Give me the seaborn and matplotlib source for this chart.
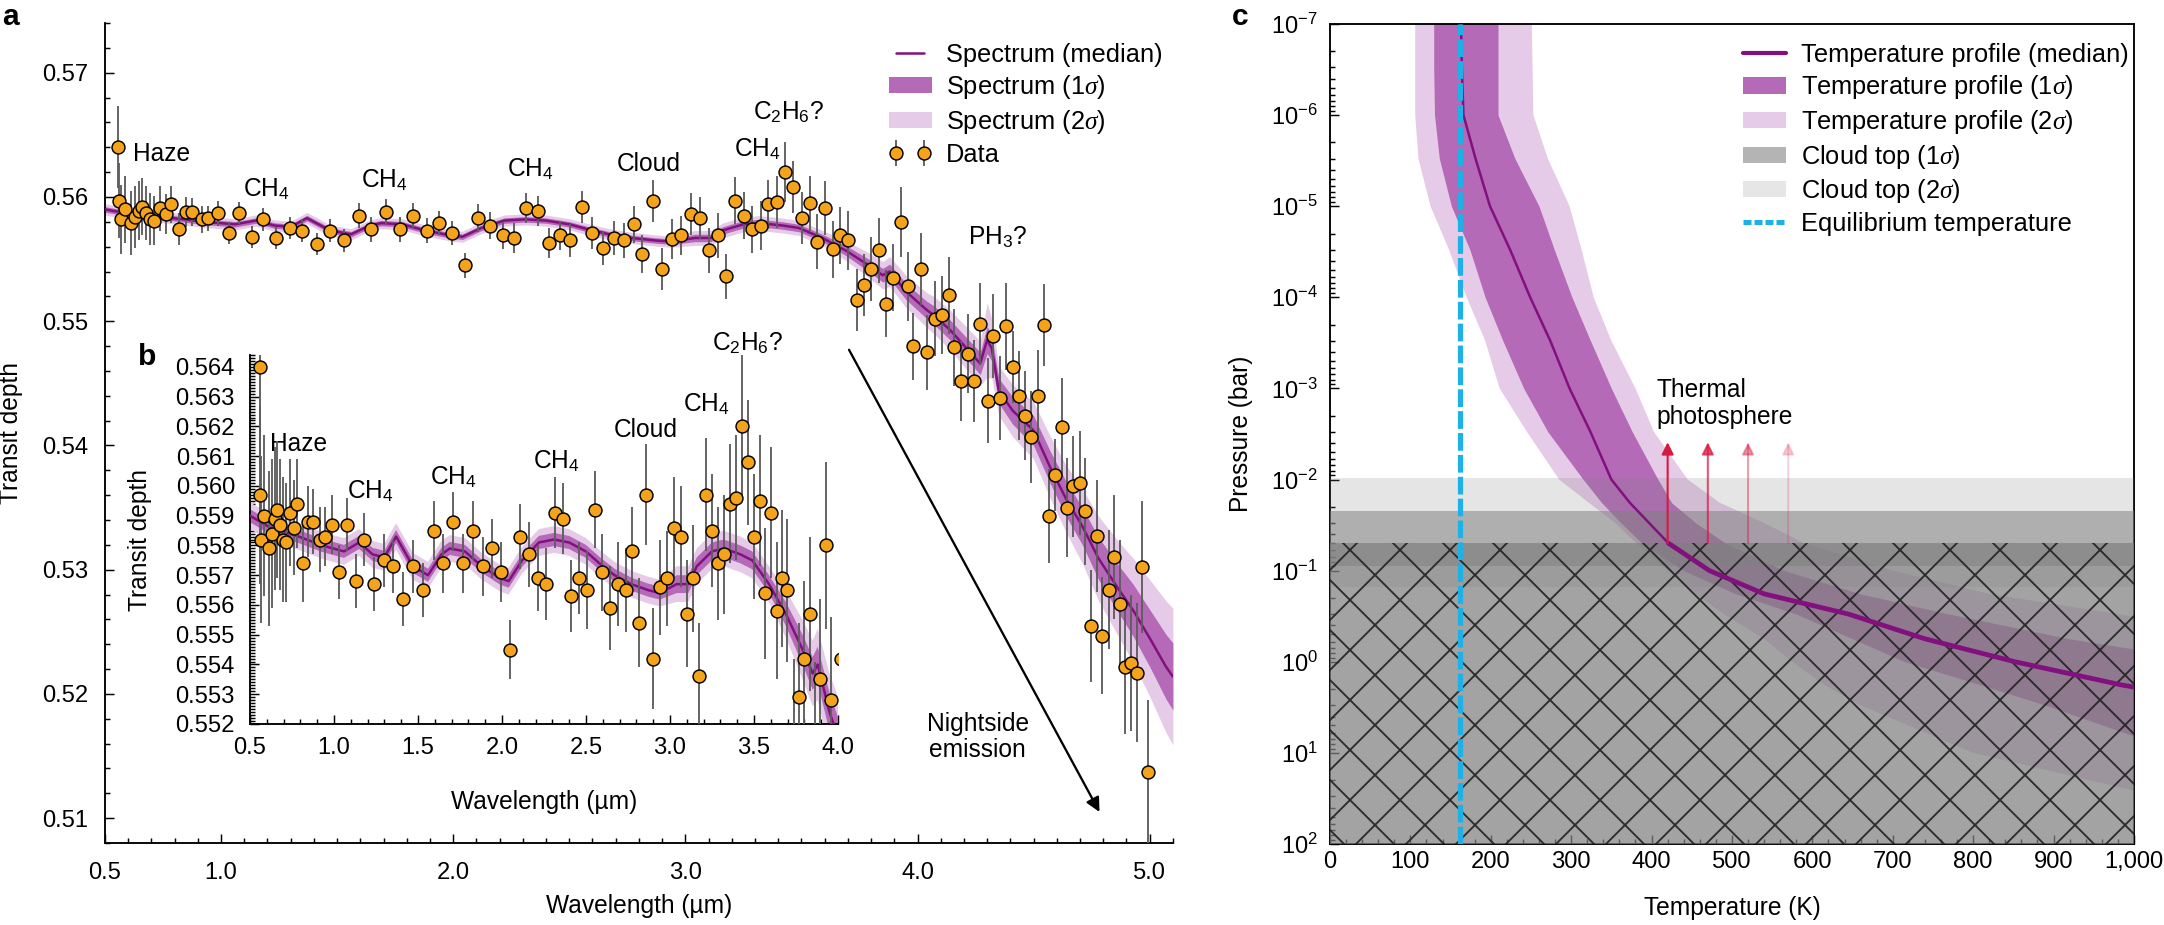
import numpy as np
import matplotlib.pyplot as plt
import seaborn as sns
from matplotlib.lines import Line2D
from matplotlib.patches import Patch
from matplotlib.ticker import (FixedLocator, MultipleLocator, FormatStrFormatter,
                               LogLocator, NullFormatter, FuncFormatter)

# ---------------- transmission spectrum (panels a, b) ----------------
wl = [0.558, 0.561, 0.568, 0.585, 0.613, 0.630, 0.647, 0.660, 0.678, 0.695,
      0.712, 0.739, 0.763, 0.783, 0.818, 0.848, 0.876, 0.917, 0.944, 0.988,
      1.033, 1.077, 1.132, 1.179, 1.238, 1.296, 1.350, 1.412, 1.470, 1.531,
      1.593, 1.647, 1.709, 1.770, 1.825, 1.886, 1.941, 1.996, 2.050, 2.108,
      2.159, 2.214, 2.262, 2.313, 2.364, 2.412, 2.460, 2.504, 2.556, 2.597,
      2.644, 2.692, 2.736, 2.777, 2.815, 2.859, 2.900, 2.941, 2.982, 3.023,
      3.064, 3.102, 3.139, 3.174, 3.215, 3.252, 3.286, 3.324, 3.358, 3.396,
      3.430, 3.464, 3.501, 3.536, 3.566, 3.600, 3.635, 3.665, 3.699,
      3.738, 3.769, 3.800, 3.833, 3.866, 3.896, 3.927, 3.957, 3.981, 4.016,
      4.040, 4.077, 4.107, 4.135, 4.158, 4.187, 4.216, 4.242, 4.271, 4.302,
      4.327, 4.354, 4.381, 4.410, 4.436, 4.463, 4.489, 4.517, 4.544, 4.568,
      4.594, 4.622, 4.645, 4.669, 4.698, 4.722, 4.748, 4.774, 4.796, 4.823,
      4.846, 4.871, 4.895, 4.918, 4.945, 4.967, 4.993]
depth = [0.5640, 0.5597, 0.5582, 0.5590, 0.5579, 0.5584, 0.5589, 0.5592, 0.5587, 0.5582,
         0.5581, 0.5591, 0.5586, 0.5594, 0.5574, 0.5588, 0.5588, 0.5582, 0.5583, 0.5587,
         0.5571, 0.5587, 0.5568, 0.5582, 0.5567, 0.5575, 0.5573, 0.5562, 0.5573, 0.5565,
         0.5585, 0.5574, 0.5588, 0.5574, 0.5585, 0.5573, 0.5579, 0.5571, 0.5545, 0.5583,
         0.5577, 0.5569, 0.5567, 0.5591, 0.5589, 0.5563, 0.5569, 0.5565, 0.5592, 0.5571,
         0.5559, 0.5567, 0.5565, 0.5578, 0.5554, 0.5597, 0.5542, 0.5566, 0.5569, 0.5586,
         0.5583, 0.5557, 0.5569, 0.5536, 0.5597, 0.5585, 0.5574, 0.5577, 0.5594, 0.5596,
         0.5620, 0.5608, 0.5583, 0.5595, 0.5564, 0.5591, 0.5558, 0.5569, 0.5565,
         0.5517, 0.5529, 0.5542, 0.5557, 0.5514, 0.5535, 0.5580, 0.5528, 0.5480, 0.5542,
         0.5475, 0.5502, 0.5505, 0.5521, 0.5479, 0.5452, 0.5474, 0.5452, 0.5498, 0.5436,
         0.5488, 0.5438, 0.5496, 0.5463, 0.5440, 0.5424, 0.5407, 0.5440, 0.5497, 0.5343,
         0.5376, 0.5415, 0.5350, 0.5367, 0.5370, 0.5347, 0.5255, 0.5327, 0.5247, 0.5284,
         0.5310, 0.5272, 0.5222, 0.5225, 0.5217, 0.5302, 0.5137]
err = [0.0033, 0.0030, 0.0028, 0.0027, 0.0026, 0.0025, 0.0024, 0.0023, 0.0022, 0.0021,
       0.0020, 0.0018, 0.0016, 0.0015, 0.0013, 0.0012, 0.0011, 0.0011, 0.0010, 0.0010,
       0.0009, 0.0009, 0.0009, 0.0009, 0.0009, 0.0009, 0.0009, 0.0009, 0.0009, 0.0009,
       0.0010, 0.0010, 0.0010, 0.0010, 0.0010, 0.0010, 0.0010, 0.0010, 0.0010, 0.0011,
       0.0011, 0.0011, 0.0012, 0.0012, 0.0012, 0.0012, 0.0012, 0.0013, 0.0013, 0.0013,
       0.0014, 0.0014, 0.0014, 0.0015, 0.0015, 0.0017, 0.0017, 0.0016, 0.0016, 0.0017,
       0.0017, 0.0018, 0.0018, 0.0018, 0.0019, 0.0019, 0.0019, 0.0020, 0.0020, 0.0021,
       0.0024, 0.0021, 0.0021, 0.0022, 0.0022, 0.0022, 0.0023, 0.0023, 0.0024,
       0.0025, 0.0025, 0.0026, 0.0026, 0.0027, 0.0027, 0.0028, 0.0028, 0.0027, 0.0029,
       0.0030, 0.0030, 0.0031, 0.0031, 0.0031, 0.0032, 0.0032, 0.0033, 0.0033, 0.0034,
       0.0034, 0.0034, 0.0035, 0.0029, 0.0036, 0.0036, 0.0037, 0.0037, 0.0033, 0.0038,
       0.0029, 0.0039, 0.0040, 0.0041, 0.0042, 0.0043, 0.0045, 0.0045, 0.0047, 0.0048,
       0.0050, 0.0052, 0.0054, 0.0055, 0.0056, 0.0053, 0.0058]

spec_wl = [0.50, 0.62, 0.79, 0.93, 1.06, 1.15, 1.23, 1.30, 1.37, 1.42,
           1.47, 1.56, 1.64, 1.69, 1.78, 1.88, 1.99, 2.04, 2.12, 2.22,
           2.31, 2.40, 2.50, 2.58, 2.67, 2.77, 2.87, 2.94, 3.04, 3.11,
           3.16, 3.25, 3.32, 3.42, 3.49, 3.59, 3.69, 3.79, 3.85, 3.88,
           3.95, 4.04, 4.07, 4.14, 4.27, 4.30, 4.32, 4.35, 4.41, 4.50,
           4.57, 4.64, 4.71, 4.78, 4.86, 4.93, 5.00, 5.07, 5.10]
spec_med = [0.5590, 0.5586, 0.5583, 0.5580, 0.5578, 0.5581, 0.5577, 0.5576, 0.5583, 0.5578,
            0.5573, 0.5570, 0.5577, 0.5579, 0.5578, 0.5573, 0.5569, 0.5568, 0.5575, 0.5581,
            0.5582, 0.5581, 0.5578, 0.5574, 0.5570, 0.5567, 0.5565, 0.5564, 0.5567, 0.5567,
            0.5573, 0.5578, 0.5579, 0.5577, 0.5575, 0.5567, 0.5557, 0.5545, 0.5537, 0.5540,
            0.5524, 0.5509, 0.5505, 0.5493, 0.5466, 0.5485, 0.5478, 0.5444, 0.5428, 0.5412,
            0.5383, 0.5357, 0.5335, 0.5309, 0.5286, 0.5267, 0.5245, 0.5222, 0.5214]
spec_1s = [0.00022] * 28 + [0.0003] * 8 + [
    0.0004, 0.0005, 0.00055, 0.0006, 0.00065, 0.0007, 0.00075, 0.0008, 0.0009, 0.0011,
    0.0010, 0.0010, 0.0011, 0.0012, 0.0013, 0.0014, 0.0015, 0.0017, 0.0019, 0.0021,
    0.0023, 0.0026, 0.0027]
spec_2s = [0.00045] * 28 + [0.0006] * 8 + [
    0.0008, 0.0010, 0.0011, 0.0012, 0.0013, 0.0014, 0.0015, 0.0016, 0.0018, 0.0030,
    0.0024, 0.0020, 0.0021, 0.0023, 0.0025, 0.0027, 0.0030, 0.0034, 0.0038, 0.0042,
    0.0047, 0.0053, 0.0055]

# ---------------- temperature profile (panel c) ----------------
pressure = [1e-7, 3e-7, 1e-6, 3e-6, 1e-5, 3e-5, 1e-4, 3e-4, 1e-3, 3e-3,
            1e-2, 1.8e-2, 3e-2, 5e-2, 1e-1, 1.8e-1, 3e-1, 5.6e-1, 1.0, 1.8,
            3.0, 10.0, 30.0, 100.0]
tp_med = [163, 164, 166, 181, 199, 224, 249, 274, 298, 324,
          350, 373, 397, 421, 472, 540, 645, 740, 852, 985,
          1130, 1400, 1700, 2000]
tp_1s_lo = [129, 129, 130, 136, 151, 174, 193, 215, 241, 271,
            315, 338, 362, 388, 440, 505, 580, 650, 715, 810,
            890, 1060, 1200, 1350]
tp_1s_hi = [209, 209, 209, 230, 260, 279, 301, 324, 350, 376,
            408, 425, 455, 492, 565, 660, 770, 920, 1100, 1300,
            1500, 1900, 2300, 2700]
tp_2s_lo = [106, 106, 106, 110, 125, 148, 170, 193, 211, 245,
            285, 322, 355, 381, 420, 455, 490, 540, 575, 615,
            660, 800, 1030, 1200]
tp_2s_hi = [251, 252, 253, 271, 298, 313, 328, 350, 380, 403,
            445, 485, 540, 590, 700, 820, 980, 1150, 1350, 1550,
            1800, 2200, 2600, 3000]
t_eq = 162
cloud_2s = (0.0096, 0.15)
cloud_1s = (0.022, 0.09)
cloud_deck = (0.05, 100)
photo_t = [420, 470, 520, 570]
photo_alpha = [1.0, 0.72, 0.42, 0.2]

PURPLE = '#82117f'
S1 = '#b46ab7'
S2 = '#e6cbe8'
ORANGE = '#f5a31a'
CYAN = '#1cb2e8'
RED = '#d7193f'

sns.set_theme(style='ticks')
plt.rcParams['font.family'] = ['Liberation Sans', 'DejaVu Sans']
plt.rcParams.update({
    'mathtext.fontset': 'custom',
    'mathtext.rm': 'Liberation Sans',
    'mathtext.it': 'Liberation Serif:italic',
    'mathtext.bf': 'Liberation Sans:bold',
    'axes.linewidth': 0.45,
    'axes.edgecolor': 'black',
    'hatch.linewidth': 0.45,
    'text.color': 'black',
    'axes.labelcolor': 'black',
    'xtick.color': 'black',
    'ytick.color': 'black',
})

TICK = 5.7
LAB = 5.9
ANN = 5.9
LEG = 6.1

fig = plt.figure(figsize=(2164 / 300, 925 / 300), dpi=300)
ax = fig.add_axes([0.0485, 0.0886, 0.4935, 0.8865])
axb = fig.add_axes([0.1155, 0.2173, 0.2717, 0.3989])
axc = fig.add_axes([0.6146, 0.0876, 0.3715, 0.8865])


def draw_spectrum(a):
    med = np.array(spec_med)
    h1 = np.array(spec_1s)
    h2 = np.array(spec_2s)
    a.fill_between(spec_wl, med - h2, med + h2, color=S2, lw=0, zorder=1)
    a.fill_between(spec_wl, med - h1, med + h1, color=S1, lw=0, zorder=2)
    sns.lineplot(x=spec_wl, y=spec_med, ax=a, color=PURPLE, linewidth=0.6,
                 sort=False, estimator=None, zorder=3)
    line = a.lines[-1]
    eb = a.errorbar(wl, depth, yerr=err, fmt='o', ms=3.1, mfc=ORANGE, mec='black',
                    mew=0.35, ecolor='#5e5e5e', elinewidth=0.45, capsize=0, zorder=4)
    return line, eb


def style_ticks(a, xpad, ypad):
    a.tick_params(which='both', direction='in', width=0.35, labelsize=TICK)
    a.tick_params(which='major', length=2.2)
    a.tick_params(which='minor', length=1.2)
    a.tick_params(axis='x', pad=xpad)
    a.tick_params(axis='y', pad=ypad)


# ---- panel a ----
line, eb = draw_spectrum(ax)
ax.set_xlim(0.5, 5.1)
ax.set_ylim(0.508, 0.574)
ax.xaxis.set_major_locator(FixedLocator([0.5, 1, 2, 3, 4, 5]))
ax.xaxis.set_minor_locator(MultipleLocator(0.1))
ax.xaxis.set_major_formatter(FormatStrFormatter('%.1f'))
ax.yaxis.set_major_locator(MultipleLocator(0.01))
ax.yaxis.set_minor_locator(MultipleLocator(0.002))
ax.yaxis.set_major_formatter(FormatStrFormatter('%.2f'))
style_ticks(ax, 4.5, 4.0)
sns.despine(ax=ax)
ax.set_xlabel('Wavelength (µm)', fontsize=LAB)
ax.set_ylabel('Transit depth', fontsize=LAB)
ax.xaxis.set_label_coords(0.5, -0.062)
ax.yaxis.set_label_coords(-0.077, 0.5)

for x, y, s in [(0.621, 0.56288, 'Haze'), (1.095, 0.56006, 'CH$_4$'),
                (1.603, 0.56074, 'CH$_4$'), (2.232, 0.56163, 'CH$_4$'),
                (2.703, 0.56208, 'Cloud'), (3.211, 0.56329, 'CH$_4$'),
                (3.293, 0.56623, 'C$_2$H$_6$?'), (4.216, 0.55618, 'PH$_3$?')]:
    ax.text(x, y, s, fontsize=ANN, ha='left', va='baseline')
ax.text(4.259, 0.5165, 'Nightside\nemission', fontsize=ANN, ha='center', va='center',
        linespacing=1.1)
ax.annotate('', xy=(4.784, 0.5105), xytext=(3.705, 0.5477),
            arrowprops=dict(arrowstyle='-|>', lw=0.55, color='black',
                            mutation_scale=7, shrinkA=0, shrinkB=0))

ax.legend([line, Patch(color=S1, lw=0), Patch(color=S2, lw=0), eb],
          ['Spectrum (median)', 'Spectrum (1$\\sigma$)', 'Spectrum (2$\\sigma$)', 'Data'],
          loc='upper left', bbox_to_anchor=(0.734, 0.976), frameon=False,
          fontsize=LEG, borderaxespad=0, borderpad=0, handlelength=1.69,
          handleheight=0.6, handletextpad=0.55, labelspacing=0.26, numpoints=2)

# ---- panel b (inset) ----
draw_spectrum(axb)
axb.set_xlim(0.5, 4.0)
axb.set_ylim(0.552, 0.5644)
axb.xaxis.set_major_locator(MultipleLocator(0.5))
axb.xaxis.set_minor_locator(MultipleLocator(0.1))
axb.xaxis.set_major_formatter(FormatStrFormatter('%.1f'))
axb.yaxis.set_major_locator(MultipleLocator(0.001))
axb.yaxis.set_minor_locator(MultipleLocator(0.0001))
axb.yaxis.set_major_formatter(FormatStrFormatter('%.3f'))
style_ticks(axb, 3.1, 3.6)
sns.despine(ax=axb)
axb.set_xlabel('Wavelength (µm)', fontsize=LAB)
axb.set_ylabel('Transit depth', fontsize=LAB)
axb.xaxis.set_label_coords(0.5, -0.179)
axb.yaxis.set_label_coords(-0.167, 0.5)
for x, y, s in [(0.620, 0.56117, 'Haze'), (1.080, 0.55957, 'CH$_4$'),
                (1.569, 0.56005, 'CH$_4$'), (2.183, 0.56058, 'CH$_4$'),
                (2.668, 0.56164, 'Cloud'), (3.078, 0.56252, 'CH$_4$'),
                (3.249, 0.56456, 'C$_2$H$_6$?')]:
    axb.text(x, y, s, fontsize=ANN, ha='left', va='baseline', clip_on=False)

# ---- panel c ----
axc.fill_betweenx(pressure, tp_2s_lo, tp_2s_hi, color=S2, lw=0, zorder=1)
axc.fill_betweenx(pressure, tp_1s_lo, tp_1s_hi, color=S1, lw=0, zorder=2)
axc.axhspan(*cloud_2s, color=(0.5, 0.5, 0.5, 0.2), lw=0, zorder=3)
axc.axhspan(*cloud_1s, color=(0.5, 0.5, 0.5, 0.53), lw=0, zorder=3)
axc.axhspan(*cloud_deck, facecolor=(0.5, 0.5, 0.5, 0.72), edgecolor=(0.13, 0.13, 0.13, 0.9),
            hatch='xx', lw=0, zorder=4)
sns.lineplot(x=tp_med, y=pressure, ax=axc, color=PURPLE, linewidth=0.6,
             sort=False, estimator=None, zorder=5)
# the profile is drawn heavier below the cloud top
deep = [i for i, p in enumerate(pressure) if p >= cloud_deck[0]]
sns.lineplot(x=[tp_med[i] for i in deep], y=[pressure[i] for i in deep], ax=axc,
             color=PURPLE, linewidth=1.15, sort=False, estimator=None, zorder=5)
axc.axvline(t_eq, color=CYAN, lw=1.25, ls=(0, (3.4, 0.8)), zorder=6)
for t, al in zip(photo_t, photo_alpha):
    axc.annotate('', xy=(t, 0.0039), xytext=(t, cloud_deck[0]),
                 arrowprops=dict(arrowstyle='-|>', lw=0.5, color=RED, alpha=al,
                                 mutation_scale=6, shrinkA=0, shrinkB=0), zorder=6)
axc.text(406, 0.00145, 'Thermal\nphotosphere', fontsize=ANN, ha='left', va='center',
         linespacing=1.15)

axc.set_yscale('log')
axc.set_xlim(0, 1000)
axc.set_ylim(100, 1e-7)
axc.yaxis.set_major_locator(LogLocator(base=10, numticks=15))
axc.yaxis.set_minor_locator(LogLocator(base=10, subs=range(2, 10), numticks=15))
axc.yaxis.set_minor_formatter(NullFormatter())
axc.xaxis.set_major_locator(MultipleLocator(100))
axc.xaxis.set_minor_locator(MultipleLocator(20))
axc.xaxis.set_major_formatter(FuncFormatter(lambda v, p: f'{int(round(v)):,}'))
style_ticks(axc, 1.8, 2.9)
axc.set_xlabel('Temperature (K)', fontsize=LAB)
axc.set_ylabel('Pressure (bar)', fontsize=LAB)
axc.xaxis.set_label_coords(0.5, -0.064)
axc.yaxis.set_label_coords(-0.096, 0.5)

handles_c = [Line2D([], [], color=PURPLE, lw=1.0),
             Patch(color=S1, lw=0), Patch(color=S2, lw=0),
             Patch(color='#b4b4b4', lw=0), Patch(color='#e6e6e6', lw=0),
             Line2D([], [], color=CYAN, lw=1.2, ls=(0, (1.6, 0.6)))]
labels_c = ['Temperature profile (median)', 'Temperature profile (1$\\sigma$)',
            'Temperature profile (2$\\sigma$)', 'Cloud top (1$\\sigma$)',
            'Cloud top (2$\\sigma$)', 'Equilibrium temperature']
axc.legend(handles_c, labels_c, loc='upper left', bbox_to_anchor=(0.514, 0.977),
           frameon=False, fontsize=LEG, borderaxespad=0, borderpad=0,
           handlelength=1.69, handleheight=0.6, handletextpad=0.6, labelspacing=0.26)

# panel letters
fig.text(0.001, 0.997, 'a', fontsize=7.2, weight='bold', va='top', ha='left')
fig.text(0.0638, 0.629, 'b', fontsize=7.2, weight='bold', va='top', ha='left')
fig.text(0.5693, 0.997, 'c', fontsize=7.2, weight='bold', va='top', ha='left')

fig.savefig('out.png', dpi=300)
